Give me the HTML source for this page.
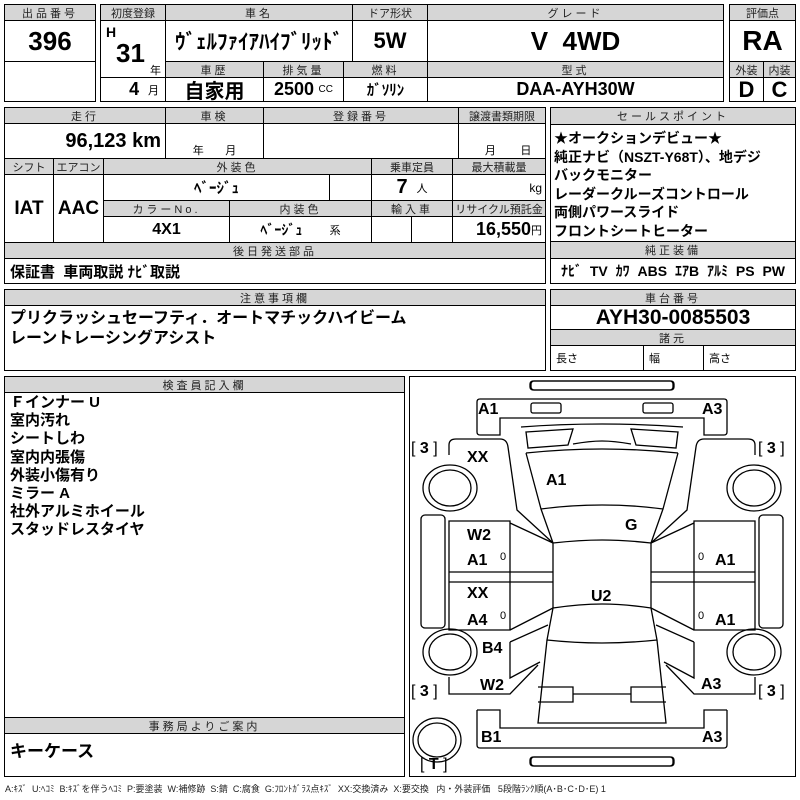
<!DOCTYPE html>
<html><head><meta charset="utf-8"><style>
body{margin:0;width:800px;height:800px;background:#fff;position:relative;overflow:hidden;font-family:"Liberation Sans","Noto Sans CJK JP",sans-serif;color:#000}
.c{position:absolute;border:1.5px solid #000;box-sizing:border-box;display:flex;align-items:center;justify-content:center;white-space:nowrap}
.h{background:#d6d6d6;font-size:11px;letter-spacing:3px;color:#222}
.v{font-weight:bold;font-size:22px}
.t{position:absolute;white-space:nowrap;font-weight:bold}
</style></head><body>
<!-- block 1 -->
<div class="c h" style="left:4px;top:4px;width:92px;height:17px">出品番号</div>
<div class="c v" style="left:4px;top:20px;width:92px;height:42px;font-size:26px">396</div>
<div class="c" style="left:4px;top:61px;width:92px;height:41px"></div>
<!-- block 2 -->
<div class="c h" style="left:100px;top:4px;width:66px;height:17px;letter-spacing:0">初度登録</div>
<div class="c h" style="left:165px;top:4px;width:188px;height:17px">車名</div>
<div class="c h" style="left:352px;top:4px;width:76px;height:17px;letter-spacing:0">ドア形状</div>
<div class="c h" style="left:427px;top:4px;width:297px;height:17px">グレード</div>
<div class="c" style="left:100px;top:20px;width:66px;height:58px"></div>
<div class="t" style="left:106px;top:24px;font-size:14px">H</div>
<div class="t" style="left:116px;top:38px;font-size:26px">31</div>
<div class="t" style="left:150px;top:62px;font-size:11px;font-weight:normal">年</div>
<div class="c" style="left:100px;top:77px;width:66px;height:25px;justify-content:flex-end;padding-right:6px"><b style="font-size:18px">4</b>&nbsp;&nbsp;<span style="font-size:11px">月</span></div>
<div class="c v" style="left:165px;top:20px;width:188px;height:42px;font-size:21px">ｳﾞｪﾙﾌｧｲｱﾊｲﾌﾞﾘｯﾄﾞ</div>
<div class="c v" style="left:352px;top:20px;width:76px;height:42px">5W</div>
<div class="c v" style="left:427px;top:20px;width:297px;height:42px;font-size:26px">V&nbsp; 4WD</div>
<div class="c h" style="left:165px;top:61px;width:99px;height:17px">車歴</div>
<div class="c h" style="left:263px;top:61px;width:81px;height:17px">排気量</div>
<div class="c h" style="left:343px;top:61px;width:85px;height:17px">燃料</div>
<div class="c h" style="left:427px;top:61px;width:297px;height:17px">型式</div>
<div class="c v" style="left:165px;top:77px;width:99px;height:25px;font-size:20px">自家用</div>
<div class="c" style="left:263px;top:77px;width:81px;height:25px"><b style="font-size:18px">2500</b>&nbsp;<span style="font-size:10px">CC</span></div>
<div class="c" style="left:343px;top:77px;width:85px;height:25px;font-size:15px;font-weight:bold">ｶﾞｿﾘﾝ</div>
<div class="c v" style="left:427px;top:77px;width:297px;height:25px;font-size:18px">DAA-AYH30W</div>
<!-- block 3 -->
<div class="c h" style="left:729px;top:4px;width:67px;height:17px;letter-spacing:0">評価点</div>
<div class="c v" style="left:729px;top:20px;width:67px;height:42px;font-size:28px">RA</div>
<div class="c h" style="left:729px;top:61px;width:35px;height:17px;letter-spacing:0">外装</div>
<div class="c h" style="left:763px;top:61px;width:33px;height:17px;letter-spacing:0">内装</div>
<div class="c v" style="left:729px;top:77px;width:35px;height:25px">D</div>
<div class="c v" style="left:763px;top:77px;width:33px;height:25px">C</div>
<!-- block 4 -->
<div class="c h" style="left:4px;top:107px;width:162px;height:17px">走行</div>
<div class="c h" style="left:165px;top:107px;width:99px;height:17px">車検</div>
<div class="c h" style="left:263px;top:107px;width:196px;height:17px">登録番号</div>
<div class="c h" style="left:458px;top:107px;width:88px;height:17px;letter-spacing:0">譲渡書類期限</div>
<div class="c" style="left:4px;top:123px;width:162px;height:36px;justify-content:flex-end;padding-right:4px"><b style="font-size:20px">96,123 km</b></div>
<div class="c" style="left:165px;top:123px;width:99px;height:36px;align-items:flex-end;font-size:11px">年&nbsp;&nbsp;&nbsp;&nbsp;&nbsp;&nbsp;&nbsp;月</div>
<div class="c" style="left:263px;top:123px;width:196px;height:36px"></div>
<div class="c" style="left:458px;top:123px;width:88px;height:36px;align-items:flex-end;font-size:11px">&nbsp;&nbsp;&nbsp;&nbsp;月&nbsp;&nbsp;&nbsp;&nbsp;&nbsp;&nbsp;&nbsp;&nbsp;日</div>
<div class="c h" style="left:4px;top:158px;width:50px;height:17px;letter-spacing:0">シフト</div>
<div class="c h" style="left:53px;top:158px;width:51px;height:17px;letter-spacing:0">エアコン</div>
<div class="c h" style="left:103px;top:158px;width:269px;height:17px">外装色</div>
<div class="c h" style="left:371px;top:158px;width:82px;height:17px;letter-spacing:0">乗車定員</div>
<div class="c h" style="left:452px;top:158px;width:94px;height:17px;letter-spacing:0">最大積載量</div>
<div class="c v" style="left:4px;top:174px;width:50px;height:69px;font-size:19px">IAT</div>
<div class="c v" style="left:53px;top:174px;width:51px;height:69px;font-size:19px">AAC</div>
<div class="c" style="left:103px;top:174px;width:227px;height:27px;font-weight:bold;font-size:15px">ﾍﾞｰｼﾞｭ</div>
<div class="c" style="left:329px;top:174px;width:43px;height:27px"></div>
<div class="c" style="left:371px;top:174px;width:82px;height:27px"><b style="font-size:20px">7</b>&nbsp;&nbsp;<span style="font-size:11px">人</span></div>
<div class="c" style="left:452px;top:174px;width:94px;height:27px;justify-content:flex-end;padding-right:3px;font-size:12px">kg</div>
<div class="c h" style="left:103px;top:200px;width:127px;height:17px">カラーNo.</div>
<div class="c h" style="left:229px;top:200px;width:143px;height:17px">内装色</div>
<div class="c h" style="left:371px;top:200px;width:82px;height:17px">輸入車</div>
<div class="c h" style="left:452px;top:200px;width:94px;height:17px;letter-spacing:0">リサイクル預託金</div>
<div class="c" style="left:103px;top:216px;width:127px;height:27px;font-weight:bold;font-size:16px">4X1</div>
<div class="c" style="left:229px;top:216px;width:143px;height:27px;font-weight:bold;font-size:14px">ﾍﾞｰｼﾞｭ&nbsp;&nbsp;&nbsp;&nbsp;&nbsp;&nbsp;&nbsp;<span style="font-weight:normal;font-size:11px">系</span></div>
<div class="c" style="left:371px;top:216px;width:41px;height:27px"></div>
<div class="c" style="left:411px;top:216px;width:42px;height:27px"></div>
<div class="c" style="left:452px;top:216px;width:94px;height:27px;justify-content:flex-end;padding-right:3px"><b style="font-size:18px">16,550</b><span style="font-size:11px">円</span></div>
<div class="c h" style="left:4px;top:242px;width:542px;height:17px">後日発送部品</div>
<div class="c" style="left:4px;top:258px;width:542px;height:26px;justify-content:flex-start;padding-left:5px;font-weight:bold;font-size:15px">保証書&nbsp; 車両取説 ﾅﾋﾞ取説</div>
<!-- sales -->
<div class="c h" style="left:550px;top:107px;width:246px;height:18px">セールスポイント</div>
<div class="c" style="left:550px;top:124px;width:246px;height:118px;display:block;padding:4px 0 0 3px;font-weight:bold;font-size:14px;line-height:18.5px">★オークションデビュー★<br>純正ナビ（NSZT-Y68T）、地デジ<br>バックモニター<br>レーダークルーズコントロール<br>両側パワースライド<br>フロントシートヒーター</div>
<div class="c h" style="left:550px;top:241px;width:246px;height:18px">純正装備</div>
<div class="c" style="left:550px;top:258px;width:246px;height:26px;font-weight:bold;font-size:14px;word-spacing:4px">ﾅﾋﾞ TV ｶﾜ ABS ｴｱB ｱﾙﾐ PS PW</div>
<!-- 注意 -->
<div class="c h" style="left:4px;top:289px;width:542px;height:17px">注意事項欄</div>
<div class="c" style="left:4px;top:305px;width:542px;height:66px;display:block;padding:3px 0 0 5px;font-weight:bold;font-size:16px;line-height:20px">プリクラッシュセーフティ．オートマチックハイビーム<br>レーントレーシングアシスト</div>
<div class="c h" style="left:550px;top:289px;width:246px;height:17px">車台番号</div>
<div class="c v" style="left:550px;top:305px;width:246px;height:25px;font-size:21px">AYH30-0085503</div>
<div class="c h" style="left:550px;top:329px;width:246px;height:17px">諸元</div>
<div class="c" style="left:550px;top:345px;width:94px;height:26px;justify-content:flex-start;padding-left:5px;font-size:11px">長さ</div>
<div class="c" style="left:643px;top:345px;width:61px;height:26px;justify-content:flex-start;padding-left:5px;font-size:11px">幅</div>
<div class="c" style="left:703px;top:345px;width:93px;height:26px;justify-content:flex-start;padding-left:5px;font-size:11px">高さ</div>
<!-- 検査員 -->
<div class="c h" style="left:4px;top:376px;width:401px;height:17px">検査員記入欄</div>
<div class="c" style="left:4px;top:392px;width:401px;height:326px;display:block;padding:1px 0 0 5px;font-weight:bold;font-size:15px;line-height:18.2px">Ｆインナー U<br>室内汚れ<br>シートしわ<br>室内内張傷<br>外装小傷有り<br>ミラー A<br>社外アルミホイール<br>スタッドレスタイヤ</div>
<div class="c h" style="left:4px;top:717px;width:401px;height:17px">事務局よりご案内</div>
<div class="c" style="left:4px;top:733px;width:401px;height:44px;justify-content:flex-start;align-items:flex-start;padding:3px 0 0 5px;font-weight:bold;font-size:17px">キーケース</div>
<div class="t" style="left:5px;top:782px;font-size:9px;font-weight:normal;color:#222">A:ｷｽﾞ&nbsp; U:ﾍｺﾐ&nbsp; B:ｷｽﾞを伴うﾍｺﾐ&nbsp; P:要塗装&nbsp; W:補修跡&nbsp; S:錆&nbsp; C:腐食&nbsp; G:ﾌﾛﾝﾄｶﾞﾗｽ点ｷｽﾞ&nbsp; XX:交換済み&nbsp; X:要交換&nbsp;&nbsp; 内・外装評価&nbsp;&nbsp; 5段階ﾗﾝｸ順(A･B･C･D･E) 1</div>
<!-- diagram -->
<div class="c" style="left:409px;top:376px;width:387px;height:401px"></div>
<svg style="position:absolute;left:0;top:0" width="800" height="800" viewBox="0 0 800 800" fill="none" stroke="#000" stroke-width="1.3">
<g id="half">
<rect x="531" y="381" width="143" height="9" rx="3"/>
<path d="M480 399 H602 M480 399 Q477 399 477 402 V432 Q477 435 480 435 H500 V418 H602"/>
<rect x="531" y="403" width="30" height="10" rx="2"/>
<path d="M521 427 Q560 424 602 424 M526 432 L573 429 L568 445 L528 448 Z M573 444 Q590 441 602 441"/>
<path d="M526 453 Q565 449 602 449 M526 453 L541 509 Q570 505 602 505 M541 509 L553 543 Q580 540 602 540 M553 543 V608 Q580 604 602 604 M553 608 L547 640 Q575 643 602 643 M547 640 L538 723 H602 M538 687 H573 V702 H538 M573 694 H602"/>
<path d="M477 710 V745 Q477 748 480 748 H602 M477 710 H500 V728 H602"/>
<rect x="531" y="757" width="143" height="9" rx="3"/>
<path d="M449 455 V445 Q449 439 456 439 H500 Q507 439 508 447 L517 510 L553 543"/>
<path d="M449 521 V630 H510 V521 Z M449 572 H553 M449 582 H553 M510 523 L553 543 M510 630 L553 608"/>
<path d="M510 642 L548 625 M510 642 V678 L540 662 M449 677 V694 H510 L538 665"/>
<rect x="421" y="515" width="24" height="113" rx="4"/>
<ellipse cx="450" cy="488" rx="27" ry="23"/><ellipse cx="450" cy="488" rx="21" ry="18"/>
<ellipse cx="450" cy="652" rx="27" ry="23"/><ellipse cx="450" cy="652" rx="21" ry="18"/>
</g>
<use href="#half" transform="translate(1204,0) scale(-1,1)"/>
<ellipse cx="437" cy="740" rx="24" ry="22"/><ellipse cx="437" cy="740" rx="19" ry="17"/>
</svg>
<div style="position:absolute;left:0;top:0;font-weight:bold;font-size:16px">
<div class="t" style="left:478px;top:401px">A1</div>
<div class="t" style="left:702px;top:401px">A3</div>
<div class="t" style="left:411px;top:440px;font-weight:normal">[ <b>3</b> ]</div>
<div class="t" style="left:758px;top:440px;font-weight:normal">[ <b>3</b> ]</div>
<div class="t" style="left:467px;top:449px">XX</div>
<div class="t" style="left:546px;top:472px">A1</div>
<div class="t" style="left:625px;top:517px">G</div>
<div class="t" style="left:467px;top:527px">W2</div>
<div class="t" style="left:467px;top:552px">A1</div>
<div class="t" style="left:500px;top:551px;font-size:11px;font-weight:normal">0</div>
<div class="t" style="left:698px;top:551px;font-size:11px;font-weight:normal">0</div>
<div class="t" style="left:715px;top:552px">A1</div>
<div class="t" style="left:467px;top:585px">XX</div>
<div class="t" style="left:591px;top:588px">U2</div>
<div class="t" style="left:467px;top:612px">A4</div>
<div class="t" style="left:500px;top:610px;font-size:11px;font-weight:normal">0</div>
<div class="t" style="left:698px;top:610px;font-size:11px;font-weight:normal">0</div>
<div class="t" style="left:715px;top:612px">A1</div>
<div class="t" style="left:482px;top:640px">B4</div>
<div class="t" style="left:480px;top:677px">W2</div>
<div class="t" style="left:701px;top:676px">A3</div>
<div class="t" style="left:411px;top:683px;font-weight:normal">[ <b>3</b> ]</div>
<div class="t" style="left:758px;top:683px;font-weight:normal">[ <b>3</b> ]</div>
<div class="t" style="left:481px;top:729px">B1</div>
<div class="t" style="left:702px;top:729px">A3</div>
<div class="t" style="left:420px;top:756px;font-weight:normal">[ <b>T</b> ]</div>
</div>
</body></html>
